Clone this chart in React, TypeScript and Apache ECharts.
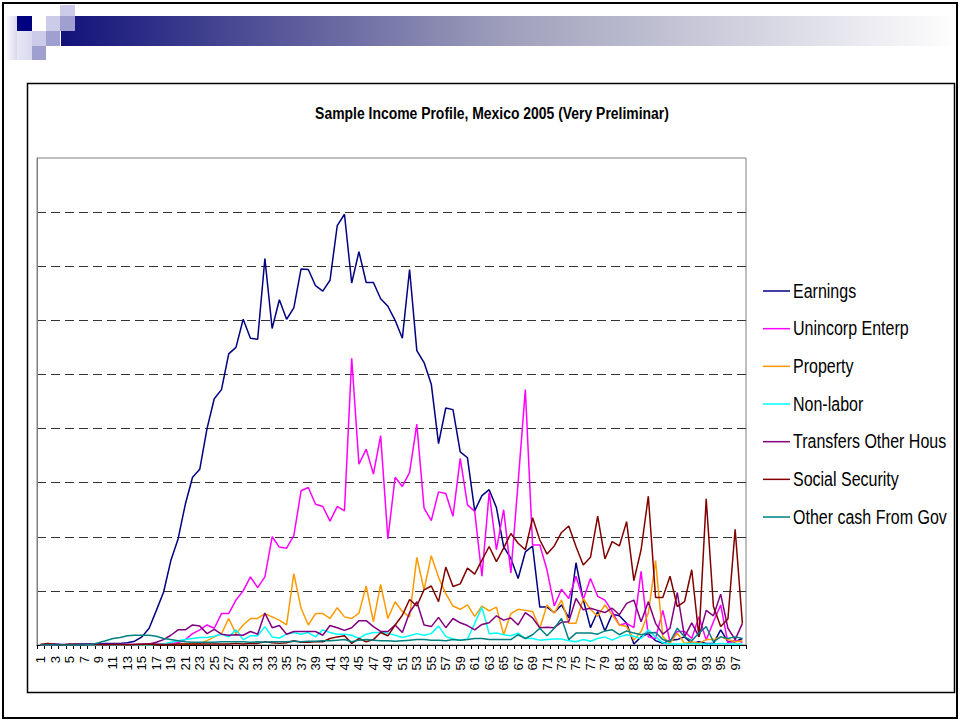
import React, { useEffect, useRef } from "react";
import * as echarts from "echarts";

const TITLE = "Sample Income Profile, Mexico 2005 (Very Preliminar)";

const categories = [
  "1","2","3","4","5","6","7","8","9","10","11","12","13","14","15","16","17","18","19","20",
  "21","22","23","24","25","26","27","28","29","30","31","32","33","34","35","36","37","38","39","40",
  "41","42","43","44","45","46","47","48","49","50","51","52","53","54","55","56","57","58","59","60",
  "61","62","63","64","65","66","67","68","69","70","71","72","73","74","75","76","77","78","79","80",
  "81","82","83","84","85","86","87","88","89","90","91","92","93","94","95","96","97","98"
];

const earnings = [
  0.01,0.01,0.02,0.01,0.01,0.02,0.02,0.02,0.02,0.03,
  0.03,0.03,0.04,0.07,0.15,0.31,0.64,0.98,1.56,1.96,
  2.6,3.1,3.25,4.0,4.55,4.72,5.38,5.5,6.02,5.67,
  5.65,7.14,5.85,6.38,6.02,6.23,6.95,6.94,6.64,6.54,
  6.74,7.75,7.96,6.69,7.27,6.7,6.7,6.4,6.26,6.0,
  5.67,6.94,5.44,5.22,4.82,3.72,4.38,4.35,3.57,3.46,
  2.48,2.76,2.87,2.54,1.82,1.6,1.23,1.72,1.83,0.7,
  0.7,0.6,0.74,0.5,1.52,0.84,0.32,0.62,0.26,0.57,
  0.54,0.4,0.02,0.15,0.21,0.08,0.03,0.09,0.1,0.15,
  0.03,0.06,0.03,0.03,0.28,0.06,0.06,0.12
];

const unincorpEnterp = [
  0,0,0.01,0,0,0.01,0,0,0.01,0.01,
  0.01,0.01,0.01,0.01,0.01,0.02,0.02,0.02,0.03,0.04,
  0.1,0.21,0.28,0.37,0.31,0.58,0.58,0.83,1.0,1.26,
  1.06,1.26,2.0,1.81,1.79,2.02,2.85,2.91,2.6,2.56,
  2.29,2.56,2.48,5.3,3.34,3.62,3.16,3.87,1.96,3.1,
  2.93,3.19,4.08,2.53,2.3,2.83,2.8,2.38,3.45,2.59,
  2.47,1.27,2.82,1.76,2.5,1.33,3.0,4.72,1.85,1.85,
  1.38,0.72,1.03,0.86,1.27,0.84,1.23,0.9,0.83,0.62,
  0.37,0.4,0.32,1.36,0.15,0.12,0.64,0.06,0.25,0.25,
  0.12,0.52,0.09,0.43,0.74,0.04,0.09,0.05
];

const property = [
  0,0,0,0,0,0,0,0,0,0,
  0,0,0,0,0,0,0.01,0.01,0.01,0.01,
  0.02,0.02,0.03,0.08,0.15,0.21,0.49,0.21,0.37,0.49,
  0.49,0.58,0.52,0.46,0.37,1.32,0.68,0.37,0.58,0.58,
  0.49,0.69,0.52,0.49,0.59,1.09,0.43,1.12,0.49,0.8,
  0.62,0.52,1.62,1.02,1.65,1.25,0.95,0.72,0.66,0.74,
  0.53,0.72,0.63,0.7,0.19,0.58,0.66,0.64,0.62,0.31,
  0.74,0.59,0.83,0.4,0.4,0.86,0.66,0.53,0.74,0.56,
  0.37,0.34,0.09,0.25,0.59,1.56,0.15,0.03,0.22,0.03,
  0.06,0.03,0.1,0.1,0.15,0.1,0.06,0.08
];

const nonLabor = [
  0,0,0,0,0,0,0,0,0,0,
  0,0,0,0,0,0,0.01,0.02,0.05,0.08,
  0.1,0.12,0.14,0.14,0.16,0.2,0.15,0.28,0.1,0.17,
  0.17,0.34,0.15,0.13,0.2,0.23,0.2,0.23,0.15,0.28,
  0.23,0.2,0.2,0.18,0.12,0.2,0.23,0.23,0.22,0.18,
  0.14,0.17,0.21,0.18,0.21,0.35,0.16,0.11,0.09,0.11,
  0.4,0.7,0.21,0.22,0.19,0.17,0.22,0.12,0.12,0.09,
  0.1,0.11,0.11,0.08,0.06,0.1,0.07,0.12,0.15,0.09,
  0.15,0.19,0.16,0.12,0.28,0.15,0.04,0.02,0.02,0.02,
  0.03,0.02,0.02,0.02,0.03,0.02,0.02,0.02
];

const transfersOtherHous = [
  0,0,0,0,0,0,0.01,0.01,0.01,0.01,
  0.01,0.01,0.01,0.01,0.02,0.02,0.05,0.1,0.18,0.28,
  0.28,0.37,0.35,0.21,0.29,0.2,0.18,0.19,0.18,0.25,
  0.2,0.59,0.32,0.36,0.2,0.25,0.25,0.25,0.25,0.18,
  0.36,0.32,0.27,0.32,0.45,0.45,0.34,0.25,0.25,0.37,
  0.23,0.6,0.8,0.37,0.34,0.51,0.32,0.49,0.41,0.36,
  0.28,0.38,0.41,0.54,0.46,0.5,0.37,0.6,0.5,0.32,
  0.33,0.32,0.42,0.43,0.86,0.65,0.68,0.64,0.6,0.68,
  0.56,0.77,0.83,0.43,0.8,0.4,0.2,0.31,0.97,0.15,
  0.41,0.15,0.64,0.54,0.94,0.31,0.1,0.4
];

const socialSecurity = [
  0.01,0.03,0.01,0,0.02,0.01,0,0.01,0.01,0,
  0.01,0.01,0,0.01,0.01,0.02,0.01,0.01,0.01,0.02,
  0.02,0.02,0.02,0.02,0.02,0.02,0.02,0.03,0.02,0.03,
  0.03,0.06,0.04,0.03,0.04,0.08,0.05,0.05,0.06,0.06,
  0.12,0.15,0.17,0.03,0.12,0.06,0.1,0.23,0.17,0.37,
  0.55,0.84,0.72,1.02,1.09,0.8,1.44,1.08,1.13,1.42,
  1.31,1.57,1.82,1.54,1.79,2.06,1.88,1.76,2.35,1.94,
  1.68,1.83,2.08,2.2,1.82,1.48,1.62,2.38,1.59,1.91,
  1.83,2.28,1.19,1.76,2.75,0.88,0.88,1.27,0.71,0.8,
  1.39,0.15,2.7,0.71,0.34,0.48,2.14,0.4
];

const otherCashFromGov = [
  0,0,0,0,0,0,0,0.01,0.04,0.08,
  0.12,0.14,0.17,0.18,0.18,0.18,0.16,0.12,0.1,0.08,
  0.06,0.05,0.05,0.05,0.05,0.06,0.06,0.06,0.06,0.05,
  0.06,0.05,0.06,0.06,0.06,0.07,0.06,0.07,0.07,0.08,
  0.08,0.09,0.1,0.06,0.09,0.1,0.09,0.08,0.08,0.07,
  0.08,0.09,0.1,0.1,0.09,0.09,0.08,0.1,0.09,0.1,
  0.12,0.12,0.1,0.1,0.1,0.1,0.19,0.12,0.19,0.31,
  0.17,0.31,0.49,0.1,0.22,0.22,0.22,0.2,0.26,0.28,
  0.19,0.26,0.22,0.19,0.22,0.23,0.1,0.06,0.31,0.15,
  0.08,0.22,0.34,0.06,0.15,0.12,0.15,0.12
];

const seriesNames = [
  "Earnings",
  "Unincorp Enterp",
  "Property",
  "Non-labor",
  "Transfers Other Hous",
  "Social Security",
  "Other cash From Gov",
];
const seriesColors = ["#000080", "#FF00FF", "#FF9900", "#00FFFF", "#800080", "#800000", "#008080"];
const seriesData = [earnings, unincorpEnterp, property, nonLabor, transfersOtherHous, socialSecurity, otherCashFromGov];

const SANS = "'Liberation Sans', Arial, sans-serif";
const TITLE_CONDENSE = 0.82;
const LEGEND_CONDENSE = 0.8;

export default function App() {
  const ref = useRef<HTMLDivElement>(null);

  useEffect(() => {
    if (!ref.current) return;
    const chart = echarts.init(ref.current, null, { renderer: "svg" });
    const lavLight = "#CCCCEA";
    const lavMid = "#9F9FD0";

    const legendTop = 291;
    const legendStep = 37.67;
    const legendElems: any[] = [];
    seriesNames.forEach((name, k) => {
      const cy = legendTop + k * legendStep;
      legendElems.push({
        type: "line",
        shape: { x1: 763, y1: cy, x2: 790, y2: cy },
        style: { stroke: seriesColors[k], lineWidth: 1.5 },
        silent: true,
      });
      legendElems.push({
        type: "text",
        x: 793,
        y: cy,
        scaleX: LEGEND_CONDENSE,
        style: {
          text: name,
          align: "left",
          verticalAlign: "middle",
          fontFamily: SANS,
          fontSize: 20,
          fill: "#000000",
        },
        silent: true,
      });
    });

    chart.setOption({
      animation: false,
      backgroundColor: "#FFFFFF",
      graphic: [
        // header gradient bar
        {
          type: "rect",
          shape: { x: 61, y: 16, width: 899, height: 30 },
          style: {
            fill: new echarts.graphic.LinearGradient(0, 0, 1, 0, [
              { offset: 0, color: "#12127A" },
              { offset: 0.5, color: "#A0A0BC" },
              { offset: 1, color: "#FFFFFF" },
            ]),
          },
          silent: true,
        },
        {
          type: "rect",
          shape: { x: 5, y: 16, width: 12, height: 44 },
          style: {
            fill: new echarts.graphic.LinearGradient(0, 0, 1, 0, [
              { offset: 0, color: "#FFFFFF" },
              { offset: 1, color: "#D8D8EE" },
            ]),
          },
          silent: true,
        },
        {
          type: "rect",
          shape: { x: 17, y: 31, width: 15, height: 29 },
          style: {
            fill: new echarts.graphic.LinearGradient(0, 0, 1, 0, [
              { offset: 0, color: "#E6E6F4" },
              { offset: 1, color: "#DADAEE" },
            ]),
          },
          silent: true,
        },
        { type: "rect", shape: { x: 60, y: 5, width: 15, height: 11 }, style: { fill: lavLight }, silent: true },
        { type: "rect", shape: { x: 17, y: 16, width: 15, height: 15 }, style: { fill: "#000080" }, silent: true },
        { type: "rect", shape: { x: 46, y: 16, width: 14, height: 15 }, style: { fill: lavLight }, silent: true },
        { type: "rect", shape: { x: 60, y: 16, width: 15, height: 15 }, style: { fill: lavMid }, silent: true },
        { type: "rect", shape: { x: 32, y: 31, width: 14, height: 15 }, style: { fill: lavLight }, silent: true },
        { type: "rect", shape: { x: 46, y: 31, width: 14, height: 15 }, style: { fill: lavMid }, silent: true },
        { type: "rect", shape: { x: 32, y: 46, width: 14, height: 14 }, style: { fill: lavMid }, silent: true },
        // slide border
        {
          type: "rect",
          shape: { x: 3, y: 3, width: 954, height: 715 },
          style: { fill: "none", stroke: "#000000", lineWidth: 2 },
          silent: true,
        },
        // chart frame
        {
          type: "rect",
          shape: { x: 27.5, y: 83.5, width: 927, height: 609 },
          style: { fill: "none", stroke: "#000000", lineWidth: 1.5 },
          silent: true,
        },
        // title
        {
          type: "text",
          x: 492,
          y: 113,
          scaleX: TITLE_CONDENSE,
          style: {
            text: TITLE,
            align: "center",
            verticalAlign: "middle",
            fontFamily: SANS,
            fontWeight: "bold",
            fontSize: 17,
            fill: "#000000",
          },
          silent: true,
        },
        ...legendElems,
      ],
      grid: {
        left: 37,
        top: 158,
        width: 709,
        height: 487,
        show: true,
        borderColor: "#808080",
        borderWidth: 1,
        backgroundColor: "transparent",
        containLabel: false,
      },
      xAxis: {
        type: "category",
        data: categories,
        boundaryGap: true,
        axisLine: { show: true, lineStyle: { color: "#000000", width: 1 } },
        axisTick: { show: true, interval: 0, length: 4, lineStyle: { color: "#000000" } },
        axisLabel: {
          interval: 1,
          rotate: 90,
          margin: 11,
          fontSize: 13,
          fontFamily: SANS,
          color: "#000000",
        },
        splitLine: { show: false },
      },
      yAxis: {
        type: "value",
        min: 0,
        max: 9,
        interval: 1,
        axisLine: { show: true, lineStyle: { color: "#808080" } },
        axisTick: { show: false },
        axisLabel: { show: false },
        splitLine: {
          show: true,
          showMinLine: false,
          showMaxLine: false,
          lineStyle: { color: "#333333", type: [9, 5], width: 1 },
        },
      },
      series: seriesNames.map((name, k) => ({
        name,
        type: "line",
        data: seriesData[k],
        symbol: "none",
        showSymbol: false,
        color: seriesColors[k],
        lineStyle: { color: seriesColors[k], width: 1.5 },
        emphasis: { disabled: true },
      })),
    });
    return () => {
      chart.dispose();
    };
  }, []);

  return (
    <div
      ref={ref}
      style={{ position: "fixed", left: 0, top: 0, width: 960, height: 721, background: "#fff" }}
    />
  );
}
